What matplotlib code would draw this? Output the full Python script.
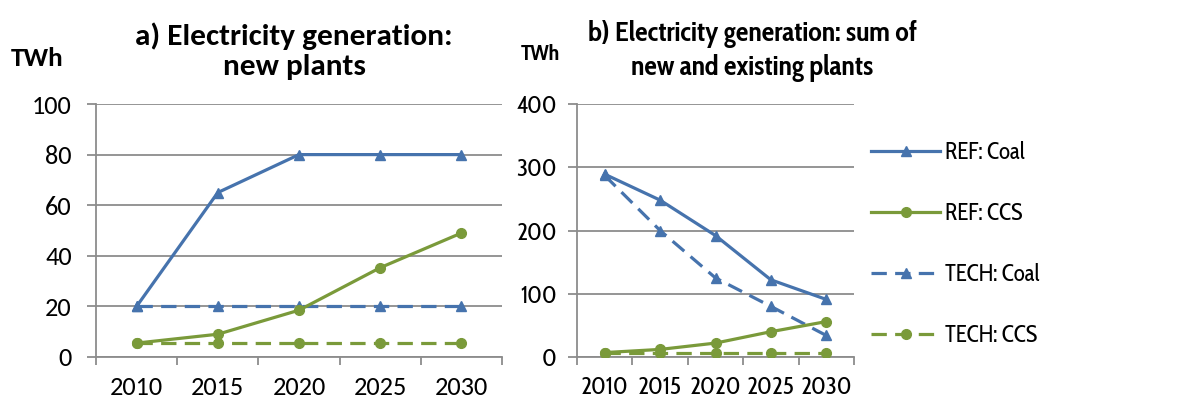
import matplotlib
matplotlib.use("Agg")
import matplotlib.pyplot as plt
from matplotlib.lines import Line2D

years = ["2010", "2015", "2020", "2025", "2030"]

# a) new plants (TWh)
new_ref_coal = [20, 65, 80, 80, 80]
new_ref_ccs = [5.5, 9, 18.5, 35.3, 49]
new_tech_coal = [20, 20, 20, 20, 20]
new_tech_ccs = [5.5, 5.5, 5.5, 5.5, 5.5]

# b) new + existing plants (TWh)
sum_ref_coal = [289, 248, 192, 122, 91]
sum_ref_ccs = [7, 12, 22, 40, 56]
sum_tech_coal = [287, 200, 125, 80, 34]
sum_tech_ccs = [7, 7, 7, 7, 7]

series_labels = ["REF: Coal", "REF: CCS", "TECH: Coal", "TECH: CCS"]

BLUE = "#4673AD"
GREEN = "#7A9A3A"
GRID = "#8C8C8C"

MAIN = ["Carlito", "Lato", "DejaVu Sans"]
NARROW = ["Cabin Condensed", "Carlito", "Lato", "DejaVu Sans"]
plt.rcParams["font.family"] = MAIN

W, H = 1184, 401
fig = plt.figure(figsize=(W / 100, H / 100), dpi=100)


def px_axes(x0, x1, ytop, ybot):
    return fig.add_axes([x0 / W, (H - ybot) / H, (x1 - x0) / W, (ybot - ytop) / H])


DASH = (0, (4.8, 2.6))
LW = 2.3


def draw(ax, data, ymax, ystep, family, xsize, ysize, ypad):
    x = list(range(len(years)))
    styles = [
        (BLUE, "-", "^"),
        (GREEN, "-", "o"),
        (BLUE, DASH, "^"),
        (GREEN, DASH, "o"),
    ]
    # dashed series first so solid lines sit on top
    for idx in [3, 2, 1, 0]:
        c, ls, m = styles[idx]
        ax.plot(x, data[idx], color=c, linestyle=ls, linewidth=LW,
                marker=m, markersize=7.5 if m == "^" else 7,
                markerfacecolor=c, markeredgecolor=c, zorder=3 + (idx < 2))
    ax.set_xlim(-0.5, len(years) - 0.5)
    ax.set_ylim(0, ymax)
    ax.set_yticks(range(0, ymax + 1, ystep))
    ax.yaxis.grid(True, color=GRID, linewidth=1.3)
    ax.set_axisbelow(True)
    ax.set_xticks(x)
    ax.set_xticklabels(years, fontsize=xsize, family=family)
    ax.set_xticks([i - 0.5 for i in range(len(years) + 1)], minor=True)
    ax.tick_params(axis="x", which="major", length=0, pad=14)
    ax.tick_params(axis="x", which="minor", length=6, width=1.3, color=GRID, direction="out")
    ax.tick_params(axis="y", length=6.5, width=1.3, color=GRID, pad=ypad)
    for lab in ax.get_yticklabels():
        lab.set_fontsize(ysize)
        lab.set_family(family)
    for s in ["top", "right"]:
        ax.spines[s].set_visible(False)
    for s in ["left", "bottom"]:
        ax.spines[s].set_color(GRID)
        ax.spines[s].set_linewidth(1.3)


ax1 = px_axes(96, 502, 104, 357)
draw(ax1, [new_ref_coal, new_ref_ccs, new_tech_coal, new_tech_ccs], 100, 20,
     MAIN, 19, 19, 11)
ax2 = px_axes(577, 854, 104, 357)
draw(ax2, [sum_ref_coal, sum_ref_ccs, sum_tech_coal, sum_tech_ccs], 400, 100,
     NARROW, 17.5, 17.5, 8)

fig.text(294 / W, 1 - 51 / H, "a) Electricity generation:\nnew plants", ha="center",
         va="center", fontsize=22.5, fontweight="bold", linespacing=1.2)
fig.text(752 / W, 1 - 51 / H, "b) Electricity generation: sum of\nnew and existing plants",
         ha="center", va="center", fontsize=20, fontweight="bold", linespacing=1.25,
         family=NARROW)
fig.text(37 / W, 1 - 58 / H, "TWh", ha="center", va="center", fontsize=19.5,
         fontweight="bold")
fig.text(540 / W, 1 - 55 / H, "TWh", ha="center", va="center", fontsize=16,
         fontweight="bold", family=NARROW)

handles = [
    Line2D([], [], color=BLUE, lw=LW, ls="-", marker="^", markersize=7.5),
    Line2D([], [], color=GREEN, lw=LW, ls="-", marker="o", markersize=7),
    Line2D([], [], color=BLUE, lw=LW, ls=DASH, marker="^", markersize=7.5),
    Line2D([], [], color=GREEN, lw=LW, ls=DASH, marker="o", markersize=7),
]
fig.legend(handles, series_labels, loc="upper left", bbox_to_anchor=(862 / W, 1 - 132 / H),
           frameon=False, handlelength=3.0, handletextpad=0.23, labelspacing=1.61,
           borderaxespad=0, borderpad=0.4, prop={"family": NARROW, "size": 16.5})

fig.savefig("out.png", dpi=100)
